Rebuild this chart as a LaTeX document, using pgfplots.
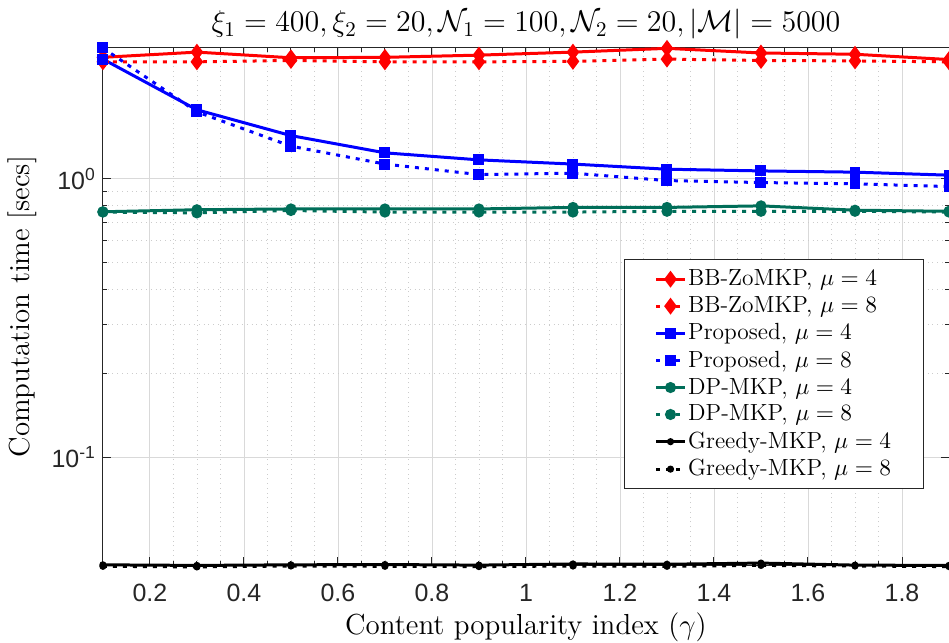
\RequirePackage{fix-cm}
\documentclass[border=0pt]{standalone}
\usepackage{fontspec}
\usepackage{pgfplots}
\pgfplotsset{compat=1.18}
\newfontfamily\ticksf{Liberation Sans}
\definecolor{dpgreen}{rgb}{0,0.43,0.35}
\definecolor{axgray}{rgb}{0.15,0.15,0.15}
\pgfplotstableread{
x    BBa   BBb   Pa    Pb    DPa   DPb   Ga     Gb
0.1  2.73  2.63  2.69  2.95  0.762 0.760 0.0412 0.0407
0.3  2.85  2.63  1.77  1.74  0.775 0.755 0.0410 0.0405
0.5  2.72  2.66  1.43  1.31  0.780 0.770 0.0412 0.0408
0.7  2.73  2.63  1.24  1.13  0.780 0.760 0.0413 0.0407
0.9  2.78  2.63  1.17  1.036 0.780 0.760 0.0411 0.0406
1.1  2.85  2.64  1.13  1.048 0.790 0.760 0.0415 0.0408
1.3  2.94  2.69  1.083 0.986 0.790 0.765 0.0414 0.0407
1.5  2.83  2.66  1.068 0.970 0.800 0.765 0.0418 0.0410
1.7  2.80  2.65  1.057 0.960 0.772 0.765 0.0411 0.0408
1.9  2.68  2.63  1.031 0.938 0.765 0.760 0.0410 0.0406
}\data
\begin{document}
\begin{tikzpicture}
\begin{axis}[name=ax, scale only axis, width=423.5pt, height=259pt,
  ymode=log, xmin=0.1, xmax=1.9, ymin=0.041, ymax=2.95,
  xtick={0.2,0.4,0.6,0.8,1,1.2,1.4,1.6,1.8},
  minor x tick num=3,
  ytick={0.1,1}, yticklabels={10\textsuperscript{-1},10\textsuperscript{0}},
  /pgf/number format/assume math mode=true,
  tick label style={font=\ticksf\fontsize{12.5}{14}\selectfont, text=axgray},
  xticklabel style={anchor=base, yshift=-18pt},
  grid=both,
  major grid style={gray!30, line width=0.4pt},
  minor grid style={gray!40, dotted, line width=0.4pt},
  axis line style={axgray, line width=0.5pt},
  tick style={axgray, line width=0.5pt},
  major tick length=4pt, minor tick length=2pt,
  xlabel={Content popularity index ($\gamma$)},
  ylabel={Computation time [secs]},
  label style={font=\fontsize{14.5}{17}\selectfont},
  xlabel style={at={(axis description cs:0.5,0)}, anchor=base, yshift=-34.5pt},
  ylabel style={at={(axis description cs:-0.0956,0.5)}, anchor=center},
  title={$\xi_1=400,\xi_2=20,\mathcal{N}_1=100,\mathcal{N}_2=20,|\mathcal{M}|=5000$},
  title style={font=\fontsize{15}{17}\selectfont, at={(axis description cs:0.5,1)}, anchor=base, yshift=2pt},
  clip=false,
  legend style={at={(axis description cs:0.970,0.147)}, anchor=south east,
    draw=axgray, line width=0.5pt, fill=white,
    font=\fontsize{11.7}{14}\selectfont, inner xsep=15pt, inner ysep=3pt, row sep=0pt,
    nodes={inner xsep=1pt}},
  legend cell align=left,
  legend image code/.code={\draw[mark repeat=2,mark phase=2] plot coordinates {(0cm,0cm) (0.25cm,0cm) (0.5cm,0cm)};},
  every axis plot/.append style={line width=1.5pt},
]
\addplot[red, mark=diamond*, mark size=3pt] table[x=x,y=BBa]{\data};
\addlegendentry{BB-ZoMKP, $\mu=4$}
\addplot[red, dash pattern=on 2pt off 3pt, mark=diamond*, mark size=3pt, mark options={solid}] table[x=x,y=BBb]{\data};
\addlegendentry{BB-ZoMKP, $\mu=8$}
\addplot[blue, mark=square*, mark size=2pt] table[x=x,y=Pa]{\data};
\addlegendentry{Proposed, $\mu=4$}
\addplot[blue, dash pattern=on 2pt off 3pt, mark=square*, mark size=2pt, mark options={solid}] table[x=x,y=Pb]{\data};
\addlegendentry{Proposed, $\mu=8$}
\addplot[dpgreen, mark=*, mark size=2pt] table[x=x,y=DPa]{\data};
\addlegendentry{DP-MKP, $\mu=4$}
\addplot[dpgreen, dash pattern=on 2pt off 3pt, mark=*, mark size=2pt, mark options={solid}] table[x=x,y=DPb]{\data};
\addlegendentry{DP-MKP, $\mu=8$}
\addplot[black, mark=*, mark size=1pt] table[x=x,y=Ga]{\data};
\addlegendentry{Greedy-MKP, $\mu=4$}
\addplot[black, dash pattern=on 2pt off 3pt, mark=*, mark size=1pt, mark options={solid}] table[x=x,y=Gb]{\data};
\addlegendentry{Greedy-MKP, $\mu=8$}
\end{axis}
\pgfresetboundingbox
\path[use as bounding box] ([xshift=-51.5pt,yshift=-38.5pt]ax.south west) rectangle ([yshift=24pt]ax.north east);
\end{tikzpicture}
\end{document}
